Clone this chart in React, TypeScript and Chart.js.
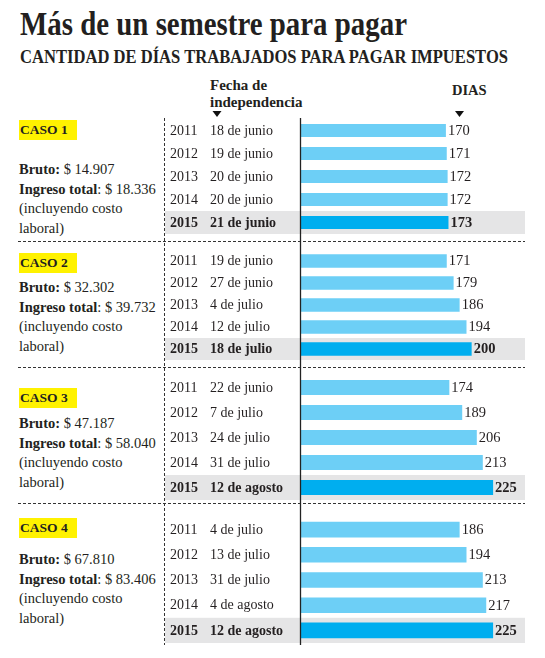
import React, { useEffect, useLayoutEffect, useRef } from "react";
import { Chart, registerables } from "chart.js";

Chart.register(...registerables);

// ---------- DATA ----------
const YEARS = ["2011", "2012", "2013", "2014", "2015"];
const CASOS = ["CASO 1", "CASO 2", "CASO 3", "CASO 4"];
const BRUTO = ["$ 14.907", "$ 32.302", "$ 47.187", "$ 67.810"];
const INGRESO = ["$ 18.336", "$ 39.732", "$ 58.040", "$ 83.406"];

const FECHAS_1 = ["18 de junio", "19 de junio", "20 de junio", "20 de junio", "21 de junio"];
const DIAS_1 = [170, 171, 172, 172, 173];
const FECHAS_2 = ["19 de junio", "27 de junio", "4 de julio", "12 de julio", "18 de julio"];
const DIAS_2 = [171, 179, 186, 194, 200];
const FECHAS_3 = ["22 de junio", "7 de julio", "24 de julio", "31 de julio", "12 de agosto"];
const DIAS_3 = [174, 189, 206, 213, 225];
const FECHAS_4 = ["4 de julio", "13 de julio", "31 de julio", "4 de agosto", "12 de agosto"];
const DIAS_4 = [186, 194, 213, 217, 225];

const TITLE = "Más de un semestre para pagar";
const SUBTITLE = "CANTIDAD DE DÍAS TRABAJADOS PARA PAGAR IMPUESTOS";

// ---------- STYLE ----------
const FONT = '"Liberation Serif", "DejaVu Serif", serif';
const TEXT = "#231f20";
const LIGHT = "#6dcff6";
const DARK = "#00aeef";
const GRAY = "#e5e5e6";
const YELLOW = "#fff200";

// chart band layout for each case (area top / height / bar fraction)
const CHART_LAYOUT = [
  { top: 119, height: 115, barPct: 0.56 },
  { top: 250, height: 110, barPct: 0.62 },
  { top: 375, height: 125, barPct: 0.6 },
  { top: 517, height: 126, barPct: 0.62 },
];
// left panel layout: caso box top, first text line top
const PANEL_LAYOUT = [
  { box: 120, lines: 160 },
  { box: 253, lines: 278 },
  { box: 388, lines: 414 },
  { box: 518, lines: 550 },
];
const SEPARATORS = [241, 367, 503];

const CANVAS_LEFT = 164;
const CANVAS_W = 366;
const AXIS_X = 300;

function FitText({ text, left, top, width, style }: any) {
  const ref = useRef<HTMLDivElement>(null);
  useLayoutEffect(() => {
    const el = ref.current;
    if (!el) return;
    el.style.transform = "none";
    const w = el.getBoundingClientRect().width;
    if (w > 0) el.style.transform = `scaleX(${width / w})`;
  }, [text, width]);
  return (
    <div
      ref={ref}
      style={{
        position: "absolute",
        left,
        top,
        whiteSpace: "nowrap",
        transformOrigin: "0 0",
        display: "inline-block",
        ...style,
      }}
    >
      {text}
    </div>
  );
}

function CaseChart({ fechas, dias, top, height, barPct }: any) {
  const ref = useRef<HTMLCanvasElement>(null);
  useEffect(() => {
    const canvas = ref.current;
    if (!canvas) return;
    const n = YEARS.length;
    const bandPlugin = {
      id: "band",
      beforeDatasetsDraw(chart: any) {
        const { ctx, chartArea, scales } = chart;
        const step = (chartArea.bottom - chartArea.top) / n;
        const cy = scales.y.getPixelForValue(n - 1);
        ctx.save();
        ctx.fillStyle = GRAY;
        ctx.fillRect(1, cy - step / 2, 525 - CANVAS_LEFT - 1, step + 1);
        ctx.restore();
      },
    };
    const textPlugin = {
      id: "rowText",
      afterDatasetsDraw(chart: any) {
        const { ctx, scales } = chart;
        ctx.save();
        ctx.fillStyle = TEXT;
        ctx.textBaseline = "middle";
        ctx.textAlign = "left";
        for (let i = 0; i < n; i++) {
          const bold = i === n - 1;
          const y = scales.y.getPixelForValue(i) + 0.5;
          ctx.font = `${bold ? "bold " : ""}14px ${FONT}`;
          ctx.fillText(YEARS[i], 6, y);
          ctx.fillText(fechas[i], 46, y);
          const xe = scales.x.getPixelForValue(dias[i]);
          ctx.font = `${bold ? "bold " : ""}14.5px ${FONT}`;
          ctx.fillText(String(dias[i]), xe + 2, y);
        }
        ctx.restore();
      },
    };
    const chart = new Chart(canvas, {
      type: "bar",
      data: {
        labels: YEARS,
        datasets: [
          {
            data: dias,
            backgroundColor: dias.map((_: number, i: number) => (i === n - 1 ? DARK : LIGHT)),
            borderWidth: 0,
            barPercentage: barPct,
            categoryPercentage: 1,
          },
        ],
      },
      options: {
        indexAxis: "y",
        animation: false,
        responsive: false,
        maintainAspectRatio: false,
        devicePixelRatio: 1,
        layout: { padding: { left: AXIS_X - CANVAS_LEFT, right: 6, top: 0, bottom: 0 } },
        scales: {
          x: { type: "linear", display: false, min: 0, max: 261 },
          y: { display: false },
        },
        plugins: { legend: { display: false }, tooltip: { enabled: false } },
      } as any,
      plugins: [bandPlugin, textPlugin],
    });
    return () => chart.destroy();
  }, []);
  return (
    <canvas
      ref={ref}
      width={CANVAS_W}
      height={height}
      style={{ position: "absolute", left: CANVAS_LEFT, top, width: CANVAS_W, height }}
    />
  );
}

const FECHAS = [FECHAS_1, FECHAS_2, FECHAS_3, FECHAS_4];
const DIAS = [DIAS_1, DIAS_2, DIAS_3, DIAS_4];

export default function App() {
  return (
    <div
      style={{
        position: "fixed",
        left: 0,
        top: 0,
        width: 545,
        height: 658,
        background: "#fff",
        fontFamily: FONT,
        color: TEXT,
        overflow: "hidden",
      }}
    >
      <FitText
        text={TITLE}
        left={20}
        top={8}
        width={387}
        style={{ fontSize: 33, lineHeight: "33px", fontWeight: "bold" }}
      />
      <FitText
        text={SUBTITLE}
        left={20}
        top={48}
        width={488}
        style={{ fontSize: 18, lineHeight: "18px", fontWeight: "bold" }}
      />
      <div
        style={{
          position: "absolute",
          left: 210,
          top: 77,
          fontSize: 15,
          lineHeight: "16.5px",
          fontWeight: "bold",
        }}
      >
        Fecha de
        <br />
        independencia
      </div>
      <div
        style={{
          position: "absolute",
          left: 452,
          top: 82,
          fontSize: 14.5,
          lineHeight: "16px",
          fontWeight: "bold",
        }}
      >
        DIAS
      </div>

      {CASOS.map((c, k) => (
        <React.Fragment key={c}>
          <div
            style={{
              position: "absolute",
              left: 19,
              top: PANEL_LAYOUT[k].box,
              width: 58,
              height: 20,
              background: YELLOW,
              fontSize: 13.5,
              lineHeight: "20px",
              fontWeight: "bold",
              paddingLeft: 1,
              boxSizing: "border-box",
              whiteSpace: "nowrap",
            }}
          >
            {c}
          </div>
          <div
            style={{
              position: "absolute",
              left: 19,
              top: PANEL_LAYOUT[k].lines,
              fontSize: 14.5,
              lineHeight: "19.5px",
              whiteSpace: "nowrap",
            }}
          >
            <b>Bruto:</b> {BRUTO[k]}
            <br />
            <b>Ingreso total</b>: {INGRESO[k]}
            <br />
            (incluyendo costo
            <br />
            laboral)
          </div>
        </React.Fragment>
      ))}

      {CHART_LAYOUT.map((l, k) => (
        <CaseChart
          key={k}
          fechas={FECHAS[k]}
          dias={DIAS[k]}
          top={l.top}
          height={l.height}
          barPct={l.barPct}
        />
      ))}

      <svg
        width={545}
        height={658}
        style={{ position: "absolute", left: 0, top: 0, pointerEvents: "none" }}
      >
        {SEPARATORS.map((y) => (
          <line
            key={y}
            x1={18}
            x2={525}
            y1={y + 0.5}
            y2={y + 0.5}
            stroke="#333"
            strokeWidth={1}
            strokeDasharray="3,2"
          />
        ))}
        <line x1={164.5} x2={164.5} y1={118} y2={645} stroke="#333" strokeWidth={1} strokeDasharray="3,2" />
        <line x1={AXIS_X + 0.5} x2={AXIS_X + 0.5} y1={118} y2={645} stroke="#222" strokeWidth={1.3} />
        <polygon points="212.5,111 221.5,111 217,117" fill="#111" />
        <polygon points="455,111 464,111 459.5,117" fill="#111" />
      </svg>
    </div>
  );
}
